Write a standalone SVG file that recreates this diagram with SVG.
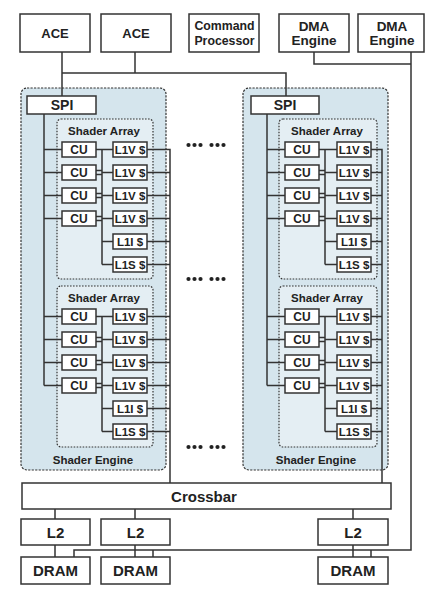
<svg xmlns="http://www.w3.org/2000/svg" width="426" height="591" viewBox="0 0 426 591">
<style>
.box{fill:#fff;stroke:#333;stroke-width:1.5}
.se{fill:#d5e5ed;stroke:#333;stroke-width:1.2;stroke-dasharray:2.2 1.3}
.sa{fill:#e4eef3;stroke:#333;stroke-width:1.2;stroke-dasharray:1.6 1.4}
.ln{fill:none;stroke:#333;stroke-width:1.5}
text{font-family:"Liberation Sans",Arial,sans-serif;font-weight:bold;fill:#222;text-anchor:middle}
.t13{font-size:13px}.t12{font-size:12.3px}.t135{font-size:13.5px}.t14{font-size:14px}.t15{font-size:15px}
.sm{font-size:11.5px}.cu{font-size:12px}
.dot{fill:#222}
</style>
<rect width="426" height="591" fill="#fff"/>
<!-- top nodes -->
<g id="ace1"><rect class="box" x="20" y="14" width="70" height="38"/><text class="t13" x="55" y="37.5">ACE</text></g>
<g id="ace2"><rect class="box" x="101" y="14" width="70" height="38"/><text class="t13" x="136" y="37.5">ACE</text></g>
<g id="cp"><rect class="box" x="189" y="14" width="70" height="38"/><text class="t12" x="224.5" y="30">Command</text><text class="t12" x="224.5" y="44.5">Processor</text></g>
<g id="dma1"><rect class="box" x="279" y="14" width="70" height="38"/><text class="t135" x="314" y="30.5">DMA</text><text class="t135" x="314" y="45">Engine</text></g>
<g id="dma2"><rect class="box" x="358" y="14" width="66" height="38"/><text class="t135" x="392" y="30.5">DMA</text><text class="t135" x="392" y="45">Engine</text></g>

<!-- shader engine 1 -->
<g id="se1">
<rect class="se" x="21" y="88" width="145" height="382" rx="6"/>
<text class="sm" x="93" y="464">Shader Engine</text>
<g id="se1-sa1"><rect class="sa" x="57" y="119" width="96" height="160" rx="4"/><text class="sm" x="104" y="135">Shader Array</text></g>
<g id="se1-sa2"><rect class="sa" x="57" y="286" width="96" height="161" rx="4"/><text class="sm" x="104" y="302">Shader Array</text></g>
<g id="se1-spi"><rect class="box" x="27" y="96" width="69" height="18"/><text class="t14" x="62" y="110">SPI</text></g>
</g>
<!-- shader engine 2 -->
<g id="se2">
<rect class="se" x="243" y="88" width="145" height="382" rx="6"/>
<text class="sm" x="316" y="464">Shader Engine</text>
<g id="se2-sa1"><rect class="sa" x="279" y="119" width="98" height="160" rx="4"/><text class="sm" x="327" y="135">Shader Array</text></g>
<g id="se2-sa2"><rect class="sa" x="279" y="286" width="98" height="161" rx="4"/><text class="sm" x="327" y="302">Shader Array</text></g>
<g id="se2-spi"><rect class="box" x="251" y="96" width="68" height="18"/><text class="t14" x="285" y="110">SPI</text></g>
</g>

<!-- connectors -->
<g id="connectors">
<path class="ln" d="M62 52V96M135 52V73M62 73H286V96"/>
<path class="ln" d="M314 52V64H411M411 52V550H74V557M153 550V557M371 550V557"/>
<!-- SE1 -->
<path class="ln" d="M44 114V385.5"/>
<path class="ln" d="M44 149.5H62M44 172.5H62M44 195.5H62M44 218.5H62M44 316.5H62M44 339.5H62M44 362.5H62M44 385.5H62"/>
<path class="ln" d="M96 149.5H113M102 149.5V264.5M102 172.5H113M102 195.5H113M102 218.5H113M102 241.5H113M102 264.5H113M96 170.5H102M96 174.5H102M96 193.5H102M96 197.5H102M96 216.5H102M96 220.5H102"/>
<path class="ln" d="M96 316.5H113M102 316.5V431.5M102 339.5H113M102 362.5H113M102 385.5H113M102 408.5H113M102 431.5H113M96 337.5H102M96 341.5H102M96 360.5H102M96 364.5H102M96 383.5H102M96 387.5H102"/>
<path class="ln" d="M147 149.5H170V483M147 172.5H170M147 195.5H170M147 218.5H170M147 241.5H170M147 264.5H170M147 316.5H170M147 339.5H170M147 362.5H170M147 385.5H170M147 408.5H170M147 431.5H170"/>
<!-- SE2 -->
<path class="ln" d="M267 114V385.5"/>
<path class="ln" d="M267 149.5H285M267 172.5H285M267 195.5H285M267 218.5H285M267 316.5H285M267 339.5H285M267 362.5H285M267 385.5H285"/>
<path class="ln" d="M319 149.5H337M325 149.5V264.5M325 172.5H337M325 195.5H337M325 218.5H337M325 241.5H337M325 264.5H337M319 170.5H325M319 174.5H325M319 193.5H325M319 197.5H325M319 216.5H325M319 220.5H325"/>
<path class="ln" d="M319 316.5H337M325 316.5V431.5M325 339.5H337M325 362.5H337M325 385.5H337M325 408.5H337M325 431.5H337M319 337.5H325M319 341.5H325M319 360.5H325M319 364.5H325M319 383.5H325M319 387.5H325"/>
<path class="ln" d="M371 149.5H382V483M371 172.5H382M371 195.5H382M371 218.5H382M371 241.5H382M371 264.5H382M371 316.5H382M371 339.5H382M371 362.5H382M371 385.5H382M371 408.5H382M371 431.5H382"/>
<!-- memory -->
<path class="ln" d="M55 509V519M135 509V519M353 509V519M55 545V557M135 545V557M353 545V557"/>
</g>

<!-- CU / cache nodes SE1 SA1 -->
<g id="se1-sa1-nodes">
<g id="se1a-cu0"><rect class="box" x="62" y="142" width="34" height="15"/><text class="cu" x="79" y="154">CU</text></g>
<g id="se1a-cu1"><rect class="box" x="62" y="165" width="34" height="15"/><text class="cu" x="79" y="177">CU</text></g>
<g id="se1a-cu2"><rect class="box" x="62" y="188" width="34" height="15"/><text class="cu" x="79" y="200">CU</text></g>
<g id="se1a-cu3"><rect class="box" x="62" y="211" width="34" height="15"/><text class="cu" x="79" y="223">CU</text></g>
<g id="se1a-v0"><rect class="box" x="113" y="142" width="34" height="15"/><text class="sm" x="130" y="153.7">L1V $</text></g>
<g id="se1a-v1"><rect class="box" x="113" y="165" width="34" height="15"/><text class="sm" x="130" y="176.7">L1V $</text></g>
<g id="se1a-v2"><rect class="box" x="113" y="188" width="34" height="15"/><text class="sm" x="130" y="199.7">L1V $</text></g>
<g id="se1a-v3"><rect class="box" x="113" y="211" width="34" height="15"/><text class="sm" x="130" y="222.7">L1V $</text></g>
<g id="se1a-i"><rect class="box" x="113" y="234" width="34" height="15"/><text class="sm" x="130" y="245.7">L1I $</text></g>
<g id="se1a-s"><rect class="box" x="113" y="257" width="34" height="15"/><text class="sm" x="130" y="268.7">L1S $</text></g>
</g>
<g id="se1-sa2-nodes">
<g id="se1b-cu0"><rect class="box" x="62" y="309" width="34" height="15"/><text class="cu" x="79" y="321">CU</text></g>
<g id="se1b-cu1"><rect class="box" x="62" y="332" width="34" height="15"/><text class="cu" x="79" y="344">CU</text></g>
<g id="se1b-cu2"><rect class="box" x="62" y="355" width="34" height="15"/><text class="cu" x="79" y="367">CU</text></g>
<g id="se1b-cu3"><rect class="box" x="62" y="378" width="34" height="15"/><text class="cu" x="79" y="390">CU</text></g>
<g id="se1b-v0"><rect class="box" x="113" y="309" width="34" height="15"/><text class="sm" x="130" y="320.7">L1V $</text></g>
<g id="se1b-v1"><rect class="box" x="113" y="332" width="34" height="15"/><text class="sm" x="130" y="343.7">L1V $</text></g>
<g id="se1b-v2"><rect class="box" x="113" y="355" width="34" height="15"/><text class="sm" x="130" y="366.7">L1V $</text></g>
<g id="se1b-v3"><rect class="box" x="113" y="378" width="34" height="15"/><text class="sm" x="130" y="389.7">L1V $</text></g>
<g id="se1b-i"><rect class="box" x="113" y="401" width="34" height="15"/><text class="sm" x="130" y="412.7">L1I $</text></g>
<g id="se1b-s"><rect class="box" x="113" y="424" width="34" height="15"/><text class="sm" x="130" y="435.7">L1S $</text></g>
</g>
<g id="se2-sa1-nodes">
<g id="se2a-cu0"><rect class="box" x="285" y="142" width="34" height="15"/><text class="cu" x="302" y="154">CU</text></g>
<g id="se2a-cu1"><rect class="box" x="285" y="165" width="34" height="15"/><text class="cu" x="302" y="177">CU</text></g>
<g id="se2a-cu2"><rect class="box" x="285" y="188" width="34" height="15"/><text class="cu" x="302" y="200">CU</text></g>
<g id="se2a-cu3"><rect class="box" x="285" y="211" width="34" height="15"/><text class="cu" x="302" y="223">CU</text></g>
<g id="se2a-v0"><rect class="box" x="337" y="142" width="34" height="15"/><text class="sm" x="354" y="153.7">L1V $</text></g>
<g id="se2a-v1"><rect class="box" x="337" y="165" width="34" height="15"/><text class="sm" x="354" y="176.7">L1V $</text></g>
<g id="se2a-v2"><rect class="box" x="337" y="188" width="34" height="15"/><text class="sm" x="354" y="199.7">L1V $</text></g>
<g id="se2a-v3"><rect class="box" x="337" y="211" width="34" height="15"/><text class="sm" x="354" y="222.7">L1V $</text></g>
<g id="se2a-i"><rect class="box" x="337" y="234" width="34" height="15"/><text class="sm" x="354" y="245.7">L1I $</text></g>
<g id="se2a-s"><rect class="box" x="337" y="257" width="34" height="15"/><text class="sm" x="354" y="268.7">L1S $</text></g>
</g>
<g id="se2-sa2-nodes">
<g id="se2b-cu0"><rect class="box" x="285" y="309" width="34" height="15"/><text class="cu" x="302" y="321">CU</text></g>
<g id="se2b-cu1"><rect class="box" x="285" y="332" width="34" height="15"/><text class="cu" x="302" y="344">CU</text></g>
<g id="se2b-cu2"><rect class="box" x="285" y="355" width="34" height="15"/><text class="cu" x="302" y="367">CU</text></g>
<g id="se2b-cu3"><rect class="box" x="285" y="378" width="34" height="15"/><text class="cu" x="302" y="390">CU</text></g>
<g id="se2b-v0"><rect class="box" x="337" y="309" width="34" height="15"/><text class="sm" x="354" y="320.7">L1V $</text></g>
<g id="se2b-v1"><rect class="box" x="337" y="332" width="34" height="15"/><text class="sm" x="354" y="343.7">L1V $</text></g>
<g id="se2b-v2"><rect class="box" x="337" y="355" width="34" height="15"/><text class="sm" x="354" y="366.7">L1V $</text></g>
<g id="se2b-v3"><rect class="box" x="337" y="378" width="34" height="15"/><text class="sm" x="354" y="389.7">L1V $</text></g>
<g id="se2b-i"><rect class="box" x="337" y="401" width="34" height="15"/><text class="sm" x="354" y="412.7">L1I $</text></g>
<g id="se2b-s"><rect class="box" x="337" y="424" width="34" height="15"/><text class="sm" x="354" y="435.7">L1S $</text></g>
</g>

<!-- ellipsis dots -->
<g id="dots">
<g id="dots1"><circle class="dot" cx="188.5" cy="145" r="2.1"/><circle class="dot" cx="194.5" cy="145" r="2.1"/><circle class="dot" cx="200.5" cy="145" r="2.1"/><circle class="dot" cx="211.5" cy="145" r="2.1"/><circle class="dot" cx="217.5" cy="145" r="2.1"/><circle class="dot" cx="223.5" cy="145" r="2.1"/></g>
<g id="dots2"><circle class="dot" cx="188.5" cy="279" r="2.1"/><circle class="dot" cx="194.5" cy="279" r="2.1"/><circle class="dot" cx="200.5" cy="279" r="2.1"/><circle class="dot" cx="211.5" cy="279" r="2.1"/><circle class="dot" cx="217.5" cy="279" r="2.1"/><circle class="dot" cx="223.5" cy="279" r="2.1"/></g>
<g id="dots3"><circle class="dot" cx="188.5" cy="447" r="2.1"/><circle class="dot" cx="194.5" cy="447" r="2.1"/><circle class="dot" cx="200.5" cy="447" r="2.1"/><circle class="dot" cx="211.5" cy="447" r="2.1"/><circle class="dot" cx="217.5" cy="447" r="2.1"/><circle class="dot" cx="223.5" cy="447" r="2.1"/></g>
</g>

<!-- memory side -->
<g id="crossbar"><rect class="box" x="22" y="483" width="369" height="26"/><text class="t15" x="204" y="501.5">Crossbar</text></g>
<g id="l2a"><rect class="box" x="21" y="519" width="69" height="26"/><text class="t15" x="55.5" y="537.5">L2</text></g>
<g id="l2b"><rect class="box" x="101" y="519" width="69" height="26"/><text class="t15" x="135.5" y="537.5">L2</text></g>
<g id="l2c"><rect class="box" x="318" y="519" width="70" height="26"/><text class="t15" x="353" y="537.5">L2</text></g>
<g id="drama"><rect class="box" x="21" y="557" width="69" height="27"/><text class="t15" x="55.5" y="576">DRAM</text></g>
<g id="dramb"><rect class="box" x="101" y="557" width="69" height="27"/><text class="t15" x="135.5" y="576">DRAM</text></g>
<g id="dramc"><rect class="box" x="318" y="557" width="70" height="27"/><text class="t15" x="353" y="576">DRAM</text></g>
</svg>
